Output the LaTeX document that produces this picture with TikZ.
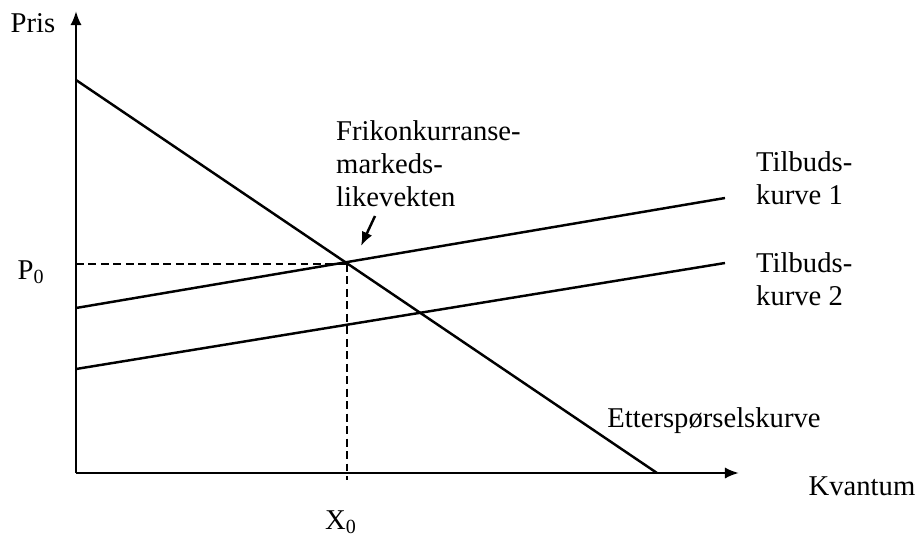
\documentclass[tikz,border=0pt]{standalone}
\usepackage{fontspec}
\setmainfont{Liberation Serif}
\usetikzlibrary{arrows.meta}

\begin{document}
\begin{tikzpicture}[x=0.02cm,y=-0.02cm,line width=1.4pt,
  every node/.style={font=\fontsize{16.3}{18.8}\selectfont,inner sep=0pt},
  axis/.style={-{Latex[length=8pt,width=6.4pt]}},
  guide/.style={dash pattern=on 4.5pt off 2.6pt}]
  \useasboundingbox (0,0) rectangle (920,537);
  % axes
  \coordinate (o) at (76,473);
  \coordinate (ytop) at (76,11);
  \coordinate (xend) at (739,473);
  \draw[axis] (o) -- (ytop);
  \draw[axis] (o) -- (xend);
  % curves
  \coordinate (d1) at (76,80);
  \coordinate (d2) at (657,473);
  \coordinate (s1a) at (76,308);
  \coordinate (s1b) at (725,198);
  \coordinate (s2a) at (76,369);
  \coordinate (s2b) at (725,263);
  \draw (d1) -- (d2);
  \draw (s1a) -- (s1b);
  \draw (s2a) -- (s2b);
  % equilibrium
  \coordinate (eq) at (347,264);
  \coordinate (x0) at (347,480);
  \draw[guide] (eq -| o) -- (eq);
  \draw[guide] (eq) -- (x0);
  % labels
  \node (pris) at (33,23) {Pris};
  \node (kvantum) at (862,486) {Kvantum};
  \node (p0) at (31,272) {P\textsubscript{0}};
  \node (x0lbl) at (341,522) {X\textsubscript{0}};
  \node (demand) at (714,421) {Etterspørselskurve};
  \node[anchor=north west,align=left] (supply1) at (755,150) {Tilbuds-\\kurve 1};
  \node[anchor=north west,align=left] (supply2) at (755,251) {Tilbuds-\\kurve 2};
  \node[anchor=north west,align=left] (eqlbl) at (335,119) {Frikonkurranse-\\markeds-\\likevekten};
  \coordinate (arr) at (375,216);
  \draw[-{Latex[length=8pt,width=6.4pt]}] (arr) -- (361,246);
\end{tikzpicture}
\end{document}
